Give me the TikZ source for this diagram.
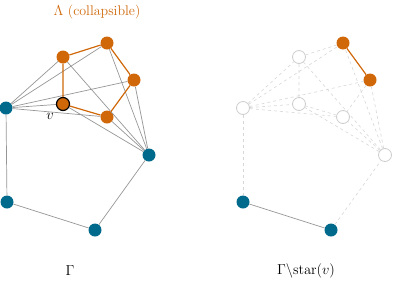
\documentclass[tikz,border=0pt]{standalone}
\usepackage{tikz}
\usepackage{xcolor}
\definecolor{lamorange}{RGB}{208,104,10}
\definecolor{gammateal}{RGB}{0,106,140}
\definecolor{edgegray}{RGB}{150,150,150}
\definecolor{fadegray}{RGB}{205,205,205}

\begin{document}
\begin{tikzpicture}[x=1pt,y=-1pt,
    vtx/.style={circle,inner sep=0pt,minimum size=13pt},
    tealv/.style={vtx,fill=gammateal},
    lamv/.style={vtx,fill=lamorange},
    gonev/.style={vtx,draw=fadegray,fill=white,line width=0.8pt},
    gedge/.style={draw=edgegray,line width=0.7pt},
    lamedge/.style={draw=lamorange,line width=1.2pt},
    goneedge/.style={draw=fadegray!80,dashed,line width=0.6pt},
    lbl/.style={font=\fontsize{14}{17}\selectfont}
  ]
    \useasboundingbox (0,0) rectangle (393,285);

    % left: Gamma
    \node[lamv] (a) at (63,57) {};
    \node[lamv] (b) at (107,43) {};
    \node[lamv] (c) at (134,80) {};
    \node[lamv] (d) at (107,117) {};
    \node[lamv,draw=black,line width=1.2pt] (v) at (63,104) {};
    \node[tealv] (l) at (6,108) {};
    \node[tealv] (r) at (149,155) {};
    \node[tealv] (bl) at (7,202) {};
    \node[tealv] (bm) at (95,230) {};

    \foreach \x in {a,b,c,v,d} {
      \draw[gedge] (l) -- (\x);
      \draw[gedge] (r) -- (\x);
    }
    \draw[gedge] (l) -- (bl);
    \draw[gedge] (bl) -- (bm);
    \draw[gedge] (bm) -- (r);
    \draw[lamedge] (a) -- (b) -- (c) -- (d) -- (v) -- (a);

    \node[lbl,text=lamorange] (lamlabel) at (97,12) {$\Lambda$ (collapsible)};
    \node[lbl] (vlabel) at (50,116) {$v$};
    \node[lbl] (gamma) at (70,271) {$\Gamma$};

    % right: Gamma minus star(v)
    \node[gonev] (a2) at (299,57) {};
    \node[lamv] (b2) at (343,43) {};
    \node[lamv] (c2) at (370,80) {};
    \node[gonev] (d2) at (343,117) {};
    \node[gonev] (v2) at (299,104) {};
    \node[gonev] (l2) at (243,108) {};
    \node[gonev] (r2) at (385,155) {};
    \node[tealv] (bl2) at (243,202) {};
    \node[tealv] (bm2) at (331,230) {};

    \foreach \x in {a2,b2,c2,v2,d2} {
      \draw[goneedge] (l2) -- (\x);
      \draw[goneedge] (r2) -- (\x);
    }
    \draw[goneedge] (l2) -- (bl2);
    \draw[goneedge] (bm2) -- (r2);
    \draw[goneedge] (a2) -- (b2);
    \draw[goneedge] (c2) -- (d2) -- (v2) -- (a2);
    \draw[gedge] (bl2) -- (bm2);
    \draw[lamedge] (b2) -- (c2);

    \node[lbl] (gammastar) at (306,271) {$\Gamma\backslash\mathrm{star}(v)$};
  \end{tikzpicture}
\end{document}
